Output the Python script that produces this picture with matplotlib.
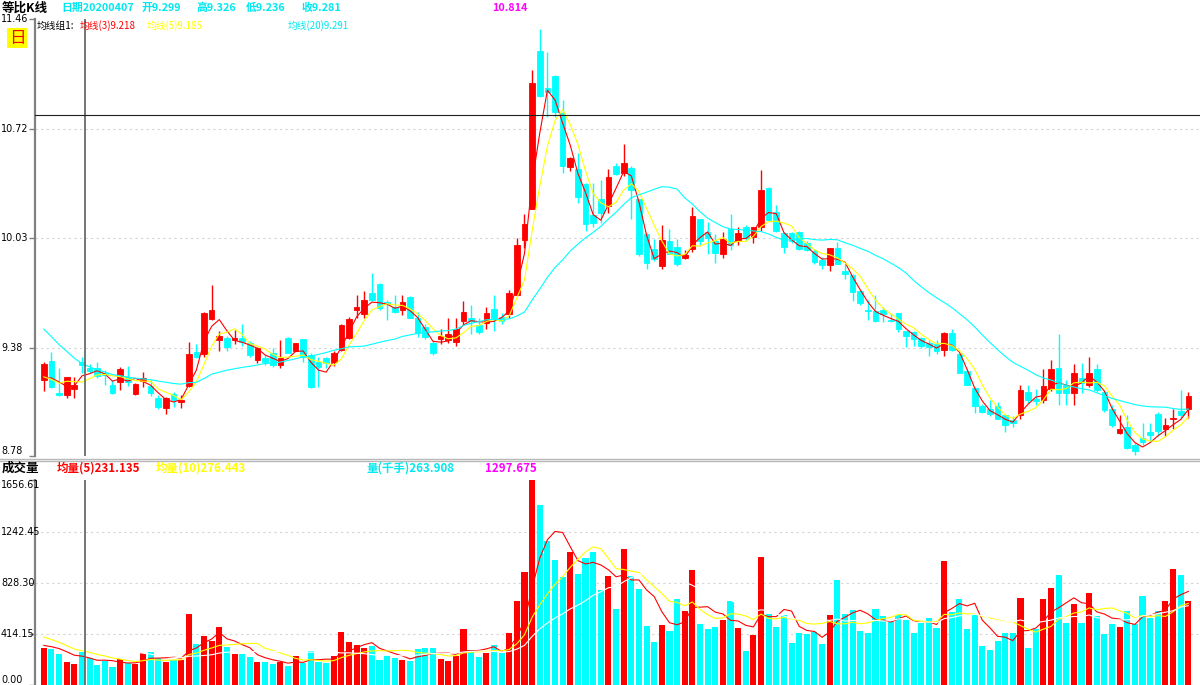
import numpy as np
import pandas as pd
import matplotlib
matplotlib.use("Agg")
import matplotlib.pyplot as plt
from matplotlib.ticker import NullLocator
from matplotlib.transforms import blended_transform_factory
from matplotlib.lines import Line2D

plt.rcParams['font.family'] = ['Noto Sans CJK SC', 'DejaVu Sans']

# daily OHLC, 151 sessions shown
opens = [
    9.20, 9.306, 9.128, 9.113, 9.151, 9.299, 9.265, 9.265, 9.236, 9.170,
    9.185, 9.214, 9.120, 9.194, 9.166, 9.10, 9.045, 9.123, 9.077, 9.166,
    9.359, 9.344, 9.549, 9.425, 9.437, 9.426, 9.437, 9.406, 9.312, 9.323,
    9.352, 9.284, 9.437, 9.365, 9.43, 9.34, 9.302, 9.323, 9.302, 9.369,
    9.437, 9.60, 9.574, 9.70, 9.75, 9.647, 9.617, 9.60, 9.675, 9.555,
    9.50, 9.41, 9.43, 9.425, 9.415, 9.535, 9.55, 9.51, 9.525, 9.605,
    9.56, 9.575, 9.69, 10.017, 10.212, 11.243, 10.989, 11.072, 10.824, 10.475,
    10.458, 10.364, 10.170, 10.273, 10.229, 10.479, 10.433, 10.469, 10.27, 10.054,
    9.963, 9.86, 10.014, 9.975, 9.906, 9.965, 10.146, 10.07, 10.009, 9.933,
    10.085, 10.009, 10.10, 10.036, 10.097, 10.34, 10.19, 10.063, 10.063, 10.07,
    10.0, 9.95, 9.894, 9.864, 9.968, 9.83, 9.806, 9.714, 9.600, 9.596,
    9.60, 9.54, 9.58, 9.477, 9.473, 9.439, 9.407, 9.403, 9.369, 9.464,
    9.346, 9.251, 9.153, 9.052, 9.038, 9.056, 9.002, 8.975, 9.002, 9.13,
    9.093, 9.085, 9.149, 9.268, 9.171, 9.124, 9.208, 9.171, 9.26, 9.13,
    9.038, 8.908, 8.94, 8.84, 8.877, 8.912, 9.012, 8.926, 8.98, 9.026,
    9.038,
]
highs = [
    9.30, 9.359, 9.266, 9.217, 9.217, 9.326, 9.29, 9.302, 9.255, 9.20,
    9.27, 9.278, 9.18, 9.242, 9.20, 9.113, 9.102, 9.13, 9.113, 9.416,
    9.40, 9.59, 9.745, 9.48, 9.45, 9.483, 9.52, 9.42, 9.385, 9.34,
    9.38, 9.426, 9.44, 9.41, 9.43, 9.35, 9.33, 9.33, 9.36, 9.52,
    9.56, 9.686, 9.71, 9.816, 9.76, 9.657, 9.686, 9.686, 9.68, 9.59,
    9.52, 9.42, 9.49, 9.55, 9.55, 9.65, 9.63, 9.55, 9.62, 9.69,
    9.58, 9.72, 10.03, 10.18, 11.115, 11.396, 11.236, 11.08, 10.912, 10.54,
    10.565, 10.37, 10.37, 10.39, 10.458, 10.50, 10.62, 10.48, 10.27, 10.06,
    10.024, 10.11, 10.085, 10.024, 9.96, 10.22, 10.15, 10.13, 10.054, 10.07,
    10.175, 10.10, 10.11, 10.10, 10.455, 10.35, 10.234, 10.07, 10.07, 10.075,
    10.01, 9.963, 9.914, 9.97, 10.004, 9.873, 9.81, 9.72, 9.66, 9.686,
    9.617, 9.58, 9.58, 9.48, 9.48, 9.44, 9.426, 9.426, 9.473, 9.49,
    9.35, 9.26, 9.16, 9.067, 9.089, 9.074, 9.01, 9.0, 9.171, 9.17,
    9.15, 9.26, 9.312, 9.46, 9.2, 9.29, 9.296, 9.327, 9.29, 9.14,
    9.06, 9.007, 9.007, 8.85, 8.96, 8.96, 9.02, 8.99, 9.038, 9.14,
    9.13,
]
lows = [
    9.135, 9.155, 9.11, 9.098, 9.096, 9.236, 9.236, 9.21, 9.17, 9.12,
    9.14, 9.164, 9.115, 9.16, 9.11, 9.04, 9.012, 9.05, 9.045, 9.16,
    9.32, 9.33, 9.54, 9.36, 9.36, 9.40, 9.39, 9.33, 9.295, 9.284,
    9.27, 9.267, 9.35, 9.36, 9.30, 9.155, 9.16, 9.267, 9.278, 9.36,
    9.43, 9.555, 9.555, 9.65, 9.60, 9.54, 9.58, 9.57, 9.55, 9.445,
    9.43, 9.34, 9.40, 9.41, 9.39, 9.51, 9.46, 9.46, 9.49, 9.48,
    9.52, 9.55, 9.68, 9.97, 10.21, 10.93, 10.795, 10.80, 10.436, 10.446,
    10.245, 10.074, 10.10, 10.12, 10.187, 10.42, 10.416, 10.146, 9.923, 9.84,
    9.89, 9.84, 9.93, 9.86, 9.90, 9.945, 9.99, 9.933, 9.88, 9.91,
    9.955, 9.99, 10.01, 10.0, 10.075, 10.14, 10.07, 9.94, 10.0, 9.96,
    9.95, 9.873, 9.84, 9.83, 9.87, 9.785, 9.65, 9.63, 9.54, 9.527,
    9.53, 9.527, 9.47, 9.387, 9.39, 9.378, 9.335, 9.346, 9.335, 9.365,
    9.237, 9.17, 9.016, 9.016, 8.998, 8.98, 8.912, 8.94, 8.98, 9.07,
    9.06, 9.07, 9.136, 9.06, 9.061, 9.06, 9.124, 9.16, 9.13, 9.02,
    8.94, 8.90, 8.82, 8.79, 8.84, 8.86, 8.89, 8.89, 8.93, 8.98,
    8.99,
]
closes = [
    9.29, 9.16, 9.113, 9.214, 9.170, 9.281, 9.251, 9.221, 9.227, 9.128,
    9.261, 9.189, 9.174, 9.208, 9.126, 9.047, 9.096, 9.085, 9.089, 9.344,
    9.331, 9.583, 9.600, 9.448, 9.387, 9.435, 9.416, 9.340, 9.378, 9.302,
    9.284, 9.323, 9.352, 9.406, 9.33, 9.16, 9.273, 9.295, 9.35, 9.511,
    9.549, 9.62, 9.66, 9.657, 9.61, 9.634, 9.585, 9.647, 9.555, 9.464,
    9.44, 9.35, 9.45, 9.46, 9.487, 9.59, 9.535, 9.47, 9.58, 9.55,
    9.535, 9.70, 9.99, 10.118, 11.022, 10.938, 10.967, 10.828, 10.479, 10.533,
    10.287, 10.115, 10.121, 10.182, 10.410, 10.427, 10.497, 10.328, 9.933, 9.88,
    9.90, 10.02, 9.933, 9.872, 9.927, 10.163, 10.009, 10.03, 9.94, 10.026,
    9.988, 10.063, 10.03, 10.097, 10.325, 10.14, 10.075, 9.975, 10.009, 9.965,
    9.96, 9.883, 9.864, 9.968, 9.873, 9.81, 9.704, 9.642, 9.594, 9.537,
    9.576, 9.537, 9.487, 9.448, 9.43, 9.391, 9.387, 9.36, 9.464, 9.369,
    9.237, 9.171, 9.052, 9.022, 9.012, 8.984, 8.948, 8.963, 9.14, 9.089,
    9.08, 9.166, 9.26, 9.124, 9.124, 9.24, 9.183, 9.24, 9.14, 9.03,
    8.952, 8.93, 8.823, 8.81, 8.858, 8.895, 8.917, 8.947, 8.99, 9.002,
    9.11,
]
# volume in 千手
volumes = [
    301, 290, 255, 190, 170, 263.908, 215, 161, 196, 148,
    210, 175, 169, 261, 269, 215, 188, 202, 202, 571,
    336, 398, 355, 471, 309, 250, 250, 229, 188, 188,
    167, 188, 153, 234, 175, 274, 188, 175, 234, 430,
    350, 323, 296, 315, 202, 242, 215, 202, 196, 288,
    296, 296, 214, 197, 237, 453, 282, 230, 261, 323,
    263, 418, 680, 918, 1656.61, 1461, 1165, 1015, 877, 1079,
    900, 1030, 1079, 772, 884, 617, 1098, 880, 774, 479,
    349, 485, 434, 693, 598, 933, 494, 453, 473, 523,
    677, 465, 278, 407, 1040, 575, 470, 567, 342, 421,
    409, 427, 331, 565, 847, 573, 605, 436, 417, 619,
    557, 519, 570, 530, 417, 498, 546, 458, 1003, 592,
    697, 452, 565, 317, 282, 355, 417, 425, 708, 301,
    452, 700, 788, 888, 498, 654, 503, 748, 559, 409,
    490, 466, 597, 492, 718, 543, 597, 678, 942, 893,
    678,
]
# sessions before the visible window (only feed the moving averages)
prev_close = [10.05, 10.02, 9.98, 9.95, 9.90, 9.62, 9.55, 9.48, 9.42, 9.38,
              9.35, 9.30, 9.28, 9.22, 9.20, 9.23, 9.22, 9.16, 9.18]
prev_volume = [450, 440, 430, 420, 410, 420, 430, 410, 400, 400,
               500, 480, 460, 440, 410, 340, 330, 320, 310]

price_ticks = [8.78, 9.38, 10.03, 10.72, 11.46]
price_labels = ["8.78", "9.38", "10.03", "10.72", "11.46"]
vol_ticks = [0.0, 414.15, 828.30, 1242.45, 1656.61]
vol_labels = ["0.00", "414.15", "828.30", "1242.45", "1656.61"]

cursor_idx = 5          # 20200407
cursor_price = 10.814

RED = "#ff0000"
CYAN = "#00ffff"
YEL = "#ffff00"
MAG = "#ff00ff"
CYAN_TXT = "#00e8f0"

n = len(closes)
x = np.arange(n)
o = np.array(opens); h = np.array(highs); l = np.array(lows); c = np.array(closes)
v = np.array(volumes)
up = c >= o
colors = np.where(up, RED, CYAN)

close_all = pd.Series(prev_close + closes)
vol_all = pd.Series(prev_volume + volumes)
k = len(prev_close)
ma3 = close_all.rolling(3).mean().values[k:]
ma5 = close_all.rolling(5).mean().values[k:]
ma20 = close_all.rolling(20).mean().values[k:]
vma5 = vol_all.rolling(5).mean().values[k:]
vma10 = vol_all.rolling(10).mean().values[k:]
vma20 = vol_all.rolling(20).mean().values[k:]

W, H = 1200, 685
fig = plt.figure(figsize=(12, 6.85), dpi=100)
fig.patch.set_facecolor("white")

def fx(px):
    return px / W

def fy(py):
    return 1 - py / H

x_lo, x_hi = -1.153, 151.53
ax = fig.add_axes([fx(35), fy(456.4), fx(1165), (456.4 - 19.4) / H])
axv = fig.add_axes([fx(35), 0.0, fx(1165), (685 - 480.4) / H])

# candles
ax.set_yscale("log")
ax.vlines(x, l, h, colors=colors, lw=1.0, zorder=2)
ax.bar(x, np.abs(c - o), bottom=np.minimum(o, c), width=0.74,
       color=colors, edgecolor=colors, linewidth=0.6, zorder=3)
ax.plot(x, ma3, color=RED, lw=0.8, zorder=4)
ax.plot(x, ma5, color=YEL, lw=0.8, zorder=4)
ax.plot(x, ma20, color=CYAN, lw=0.8, zorder=4)
ax.set_ylim(price_ticks[0], price_ticks[-1])

# volume
axv.bar(x, v, width=0.8, color=colors, linewidth=0, zorder=3)
axv.plot(x, vma5, color=RED, lw=0.8, zorder=4)
axv.plot(x, vma10, color=YEL, lw=0.8, zorder=4)
axv.plot(x, vma20, color="white", lw=0.8, zorder=4)
axv.set_ylim(vol_ticks[0], vol_ticks[-1])

for a, ticks, labels in [(ax, price_ticks, price_labels), (axv, vol_ticks, vol_labels)]:
    a.set_xlim(x_lo, x_hi)
    a.set_facecolor("white")
    for s in ["top", "right", "bottom"]:
        a.spines[s].set_visible(False)
    a.spines["left"].set_color("#808080")
    a.spines["left"].set_linewidth(1.6)
    a.set_xticks([])
    a.set_yticks(ticks)
    a.yaxis.set_minor_locator(NullLocator())
    a.tick_params(axis="y", which="both", length=4, width=1, color="#808080",
                  labelleft=False)
    for t in ticks[1:-1]:
        a.axhline(t, color="#d4d4d4", lw=0.8, ls=(0, (2, 3)), zorder=1)
    tr = blended_transform_factory(fig.transFigure, a.transData)
    for i, (t, lab) in enumerate(zip(ticks, labels)):
        va = "center"
        if i == 0:
            va = "bottom"
        elif i == len(ticks) - 1 and a is axv:
            va = "top"
        a.text(fx(1), t, lab, transform=tr, ha="left", va=va, fontsize=6.9,
               family="DejaVu Sans", color="black")
    # cross-hair vertical line through the selected session
    a.axvline(cursor_idx + 0.4, color="#6a6a6a", lw=1.3, zorder=5)

ax.axhline(cursor_price, color="#202020", lw=0.8, zorder=5)

# panel separator
for py in (458.5, 461.0):
    fig.add_artist(Line2D([0, 1], [fy(py), fy(py)], color="#b8b8b8", lw=1.0,
                          transform=fig.transFigure))

# header row
fig.text(fx(2), fy(8), "等比K线", fontsize=9, fontweight="bold", color="black",
         ha="left", va="center")
sel = cursor_idx
hdr = [(61, "日期20200407"), (142, "开%.3f" % opens[sel]), (196, "高%.3f" % highs[sel]),
       (246, "低%.3f" % lows[sel]), (302, "收%.3f" % closes[sel])]
for px, s in hdr:
    fig.text(fx(px), fy(8), s, fontsize=7.8, fontweight="bold", color=CYAN_TXT,
             ha="left", va="center")
fig.text(fx(492), fy(8), "%.3f" % cursor_price, fontsize=7.8, fontweight="bold",
         color=MAG, ha="left", va="center")

fig.text(fx(37), fy(26), "均线组1:", fontsize=7, color="black", ha="left", va="center")
fig.text(fx(80), fy(26), "均线(3)%.3f" % 9.218, fontsize=7, color=RED, ha="left", va="center")
fig.text(fx(147), fy(26), "均线(5)%.3f" % 9.185, fontsize=7, color=YEL, ha="left", va="center")
fig.text(fx(288), fy(26), "均线(20)%.3f" % 9.291, fontsize=7, color=CYAN_TXT, ha="left", va="center")

fig.text(fx(9), fy(38), "日", fontsize=12, color=RED, ha="left", va="center",
         bbox=dict(boxstyle="square,pad=0.1", fc=YEL, ec="none"))

# volume header
fig.text(fx(2), fy(468), "成交量", fontsize=9, fontweight="bold", color="black",
         ha="left", va="center")
vol_hdr = [(57, "均量(5)231.135", RED), (156, "均量(10)276.443", YEL),
           (367, "量(千手)%.3f" % volumes[sel], CYAN_TXT), (485, "1297.675", MAG)]
for px, s, col in vol_hdr:
    fig.text(fx(px), fy(468), s, fontsize=8.3, fontweight="bold", color=col,
             ha="left", va="center")

fig.savefig("out.png", dpi=100, facecolor="white")
